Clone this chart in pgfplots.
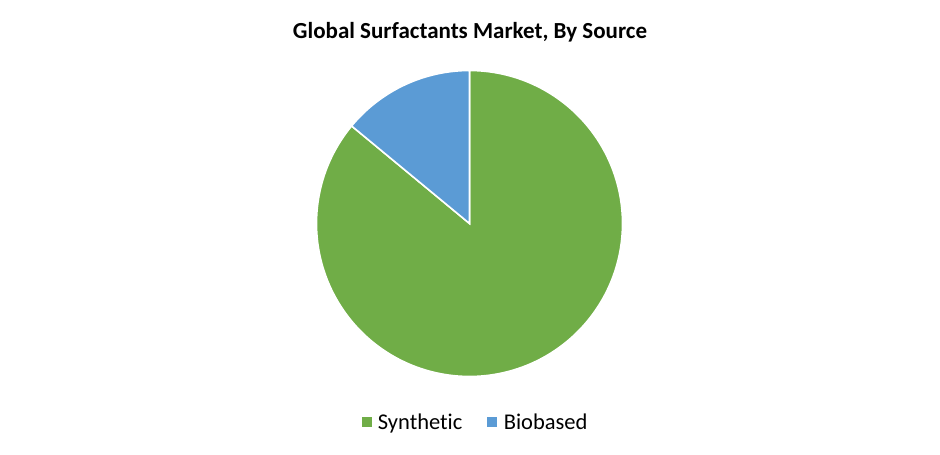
\documentclass[border=0pt]{standalone}
\usepackage{pgfplots}
\pgfplotsset{compat=1.18}
\usepackage{fontspec}
\setmainfont{Carlito}[Ligatures={NoCommon}]
\definecolor{syn}{HTML}{70AD47}
\definecolor{bio}{HTML}{5B9BD5}
\begin{document}
\begin{tikzpicture}
\def\synth{86}\def\bio{14}
\pgfmathsetmacro\aS{90}
\pgfmathsetmacro\aE{90-3.6*\synth}
\pgfmathsetmacro\aB{\aE+360}
\begin{axis}[
 width=940pt, height=455pt, scale only axis,
 xmin=0,xmax=940,ymin=0,ymax=455,
 hide axis, clip=false,
 legend style={at={(axis cs:474.5,33)}, anchor=center, draw=none, fill=none,
   legend columns=2, font=\fontsize{22.5}{27}\selectfont,
   nodes={inner sep=0pt},
   /tikz/every odd column/.append style={column sep=7pt},
   /tikz/every even column/.append style={column sep=25pt}},
 legend cell align=left,
]
\path (axis cs:0,0) rectangle (axis cs:940,455);
\addplot[fill=syn, draw=white, line width=1.6pt, domain=\aE:\aS, samples=300, variable=\t, forget plot]
  ({469.5+153*cos(t)},{231.5+153*sin(t)}) -- (axis cs:469.5,231.5) -- cycle;
\addplot[fill=bio, draw=white, line width=1.6pt, domain=\aS:\aB, samples=100, variable=\t, forget plot]
  ({469.5+153*cos(t)},{231.5+153*sin(t)}) -- (axis cs:469.5,231.5) -- cycle;
\addlegendimage{legend image code/.code={\fill[syn] (0pt,-4.5pt) rectangle (9pt,4.5pt);}}
\addlegendentry{Synthetic}
\addlegendimage{legend image code/.code={\fill[bio] (0pt,-4.5pt) rectangle (9pt,4.5pt);}}
\addlegendentry{Biobased}
\node[font=\bfseries\fontsize{23}{27}\selectfont, anchor=base] at (axis cs:470,416) {Global Surfactants Market, By Source};
\end{axis}
\end{tikzpicture}
\end{document}
